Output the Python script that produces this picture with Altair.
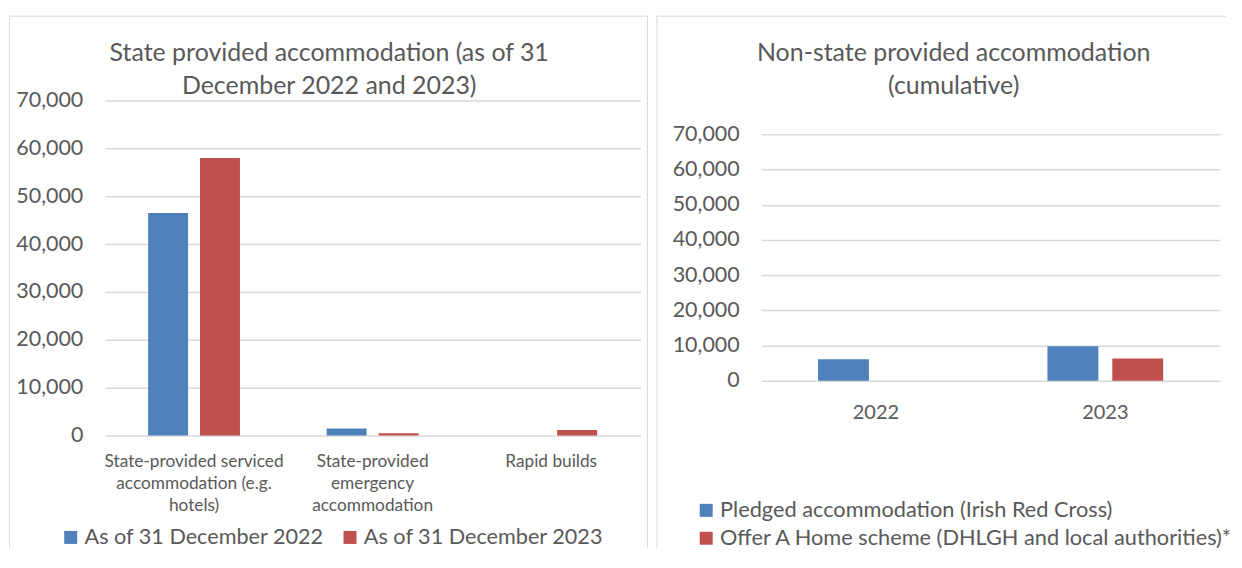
import altair as alt
import pandas as pd

# ---------------- data ----------------
left_categories = [
    "State-provided serviced\naccommodation (e.g.\nhotels)",
    "State-provided\nemergency\naccommodation",
    "Rapid builds",
]
left_series = ["As of 31 December 2022", "As of 31 December 2023"]
left_2022 = [46500, 1500, 0]
left_2023 = [58000, 480, 1190]

right_categories = ["2022", "2023"]
right_series = [
    "Pledged accommodation (Irish Red Cross)",
    "Offer A Home scheme (DHLGH and local authorities)*",
]
right_pledged = [6100, 9800]
right_offer = [0, 6350]

y_ticks = [0, 10000, 20000, 30000, 40000, 50000, 60000, 70000]

left_title = ["State provided accommodation (as of 31", "December 2022 and 2023)"]
right_title = ["Non-state provided accommodation", "(cumulative)"]

# ---------------- styles ----------------
FONT = "Lato"
GREY = "#595959"
GRID = "#d9d9d9"
BLUE = "#4f81bd"
RED = "#c0504d"

left_df = pd.DataFrame(
    [{"category": c, "series": left_series[0], "value": v} for c, v in zip(left_categories, left_2022)]
    + [{"category": c, "series": left_series[1], "value": v} for c, v in zip(left_categories, left_2023)]
)
right_df = pd.DataFrame(
    [{"category": c, "series": right_series[0], "value": v} for c, v in zip(right_categories, right_pledged)]
    + [{"category": c, "series": right_series[1], "value": v} for c, v in zip(right_categories, right_offer)]
)
one = alt.Data(values=[{"k": 1}])


def frame(x0, x1, y0, y1, right=True):
    parts = [
        alt.Chart(one).mark_rule(color=GRID, strokeWidth=1).encode(
            x=alt.value(x0), y=alt.value(y0), y2=alt.value(y1)),
        alt.Chart(one).mark_rule(color=GRID, strokeWidth=1).encode(
            x=alt.value(x0), x2=alt.value(x1), y=alt.value(y0)),
    ]
    if right:
        parts.append(alt.Chart(one).mark_rule(color=GRID, strokeWidth=1).encode(
            x=alt.value(x1), y=alt.value(y0), y2=alt.value(y1)))
    return parts


def y_axis():
    return alt.Axis(values=y_ticks, format=",.0f", title=None, labelFontSize=21.5,
                    labelColor=GREY, labelPadding=22, ticks=False, domain=False,
                    grid=True, gridColor=GRID, gridWidth=1.5)


# Both panels share the same plot top (page y ~100); the right panel's plot is
# taller than its 0-70,000 range so its gridlines sit lower, as in the reference.
LW, LH = 537, 336
RW, RH = 460, 281
RIGHT_DOMAIN_MAX = 70000 * RH / 247

# ---------------- left panel ----------------
left_bars = alt.Chart(left_df).mark_bar().encode(
    x=alt.X("category:N", sort=left_categories,
            scale=alt.Scale(paddingInner=0, paddingOuter=0),
            axis=alt.Axis(title=None, labelAngle=0, labelExpr="split(datum.label, '\\n')",
                          labelFontSize=17.3, labelColor=GREY, labelLineHeight=22,
                          labelBaseline="top", labelPadding=17, ticks=False,
                          domain=False, labelLimit=0)),
    xOffset=alt.XOffset("series:N", sort=left_series,
                        scale=alt.Scale(paddingInner=0.23, paddingOuter=0.836)),
    y=alt.Y("value:Q", scale=alt.Scale(domain=[0, 70000], nice=False), axis=y_axis()),
    color=alt.Color("series:N", sort=left_series,
                    scale=alt.Scale(domain=left_series, range=[BLUE, RED]),
                    legend=alt.Legend(title=None, orient="none", legendX=-45, legendY=427,
                                      direction="horizontal", symbolType="square",
                                      symbolSize=169, symbolStrokeWidth=0,
                                      labelFontSize=21.7, labelColor=GREY, labelLimit=0,
                                      columnPadding=15, labelOffset=3)),
)
left_title_mark = alt.Chart(one).mark_text(
    text=left_title, font=FONT, fontSize=25, color=GREY, lineHeight=34,
    align="center", baseline="middle").encode(x=alt.value(225), y=alt.value(-48))

left = alt.layer(*frame(-95.5, 544, -84.5, 448), left_title_mark, left_bars).properties(
    width=LW, height=LH)

# ---------------- right panel ----------------
right_bars = alt.Chart(right_df).mark_bar().encode(
    x=alt.X("category:N", sort=right_categories,
            scale=alt.Scale(paddingInner=0, paddingOuter=0),
            axis=alt.Axis(title=None, labelAngle=0, labelFontSize=20, labelColor=GREY,
                          labelBaseline="top", labelPadding=22, ticks=False,
                          domain=False)),
    xOffset=alt.XOffset("series:N", sort=right_series,
                        scale=alt.Scale(paddingInner=0.215, paddingOuter=0.877)),
    y=alt.Y("value:Q", scale=alt.Scale(domain=[0, RIGHT_DOMAIN_MAX], nice=False),
            axis=y_axis()),
    color=alt.Color("series:N", sort=right_series,
                    scale=alt.Scale(domain=right_series, range=[BLUE, RED]),
                    legend=alt.Legend(title=None, orient="none", legendX=-66, legendY=400,
                                      direction="vertical", symbolType="square",
                                      symbolSize=169, symbolStrokeWidth=0,
                                      labelFontSize=21.8, labelColor=GREY,
                                      rowPadding=5, labelOffset=3, labelLimit=0)),
)
right_title_mark = alt.Chart(one).mark_text(
    text=right_title, font=FONT, fontSize=25, color=GREY, lineHeight=34,
    align="center", baseline="middle").encode(x=alt.value(193), y=alt.value(-48))

right = alt.layer(*frame(-104.5, 466, -84.5, 448, right=False), right_title_mark,
                  right_bars).properties(width=RW, height=RH)

chart = alt.hconcat(left, right, spacing=8).resolve_scale(
    color="independent", x="independent", xOffset="independent", y="independent"
).properties(
    padding={"left": 1, "top": 7, "right": 0, "bottom": 0},
    background="white",
).configure_view(stroke=None).configure_axis(
    labelFont=FONT
).configure_legend(labelFont=FONT).configure_text(font=FONT)

chart.save("out.html", embed_options={"renderer": "svg", "actions": False})
